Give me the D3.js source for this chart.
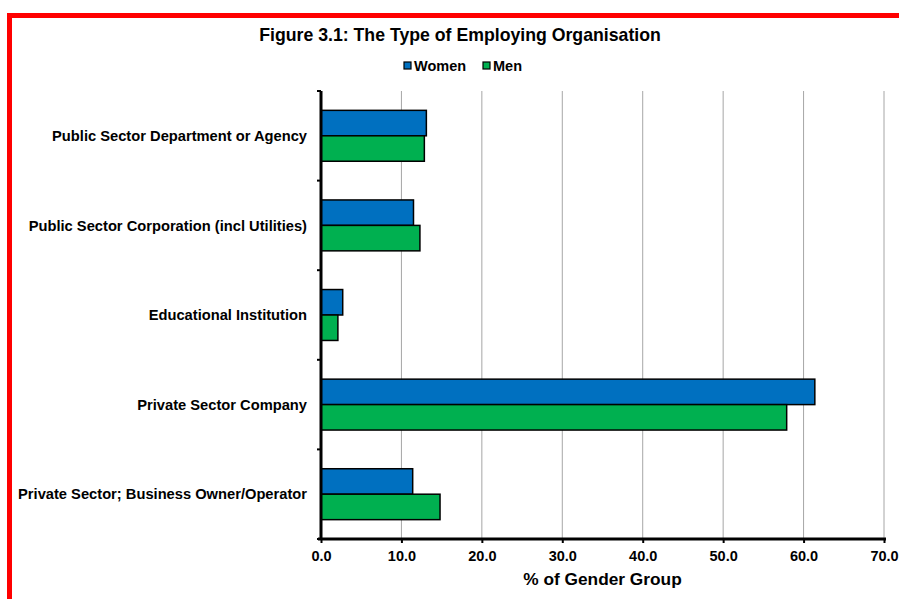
<!DOCTYPE html>
<html>
<head>
<meta charset="utf-8">
<script src="https://cdn.jsdelivr.net/npm/d3@7"></script>
<style>
  body { margin: 0; background: #fff; }
  text { font-family: "Liberation Sans", Arial, sans-serif; font-weight: bold; fill: #000; }
</style>
</head>
<body>
<svg id="chart"></svg>
<script>
var categories = [
  "Public Sector Department or Agency",
  "Public Sector Corporation (incl Utilities)",
  "Educational Institution",
  "Private Sector Company",
  "Private Sector; Business Owner/Operator"
];
var series = ["Women", "Men"];
var women = [13.1, 11.5, 2.7, 61.4, 11.4];
var men = [12.85, 12.3, 2.1, 57.9, 14.8];
var xTicks = [0, 10, 20, 30, 40, 50, 60, 70];
var colors = { Women: "#0070c0", Men: "#00b050" };

var W = 899, H = 599;
var margin = { top: 91, right: 15, bottom: 60, left: 321 };
var width = 884 - margin.left;
var height = 539 - margin.top;

var svgRoot = d3.select("#chart")
  .attr("width", W)
  .attr("height", H);

// red frame
svgRoot.append("path")
  .attr("d", "M9.5," + H + " V15.5 H" + W)
  .attr("fill", "none")
  .attr("stroke", "#ff0000")
  .attr("stroke-width", 5);

var svg = svgRoot.append("g")
  .attr("transform", "translate(" + margin.left + "," + margin.top + ")");

var x = d3.scaleLinear().domain([0, 70]).range([0, width]);
var y = d3.scaleBand().domain(categories).range([0, height]).padding(0);
var ys = d3.scaleBand().domain(series).range([0, y.bandwidth()])
  .paddingInner(0).paddingOuter(0.76);

// gridlines
svg.append("g")
  .selectAll("line")
  .data(xTicks.slice(1))
  .enter().append("line")
  .attr("x1", function (d) { return x(d); })
  .attr("x2", function (d) { return x(d); })
  .attr("y1", 0)
  .attr("y2", height)
  .attr("stroke", "#a6a6a6")
  .attr("stroke-width", 1);

// bars
var rows = categories.map(function (c, i) {
  return { cat: c, vals: [{ s: "Women", v: women[i] }, { s: "Men", v: men[i] }] };
});
var grp = svg.selectAll(".cat")
  .data(rows)
  .enter().append("g")
  .attr("transform", function (d) { return "translate(0," + y(d.cat) + ")"; });
grp.selectAll("rect")
  .data(function (d) { return d.vals; })
  .enter().append("rect")
  .attr("x", 0)
  .attr("y", function (d) { return ys(d.s); })
  .attr("width", function (d) { return x(d.v); })
  .attr("height", ys.bandwidth())
  .attr("fill", function (d) { return colors[d.s]; })
  .attr("stroke", "#000")
  .attr("stroke-width", 1.5);

// x axis
var xAxis = svg.append("g")
  .attr("transform", "translate(0," + height + ")")
  .call(d3.axisBottom(x).tickValues(xTicks).tickFormat(d3.format(".1f")).tickSize(4).tickSizeOuter(0));
xAxis.select(".domain").attr("stroke-width", 3).attr("d", "M-3,0H" + (width + 2));
xAxis.selectAll(".tick line").attr("stroke-width", 2);
xAxis.selectAll("text")
  .attr("y", 17)
  .attr("dy", "0.35em")
  .style("font-size", "14.5px")
  .style("font-family", "Liberation Sans, Arial, sans-serif")
  .style("font-weight", "bold");

// y axis
var yTickPos = d3.range(categories.length + 1).map(function (i) { return i * y.step(); });
var yAxis = svg.append("g");
yAxis.append("line")
  .attr("x1", 0).attr("x2", 0)
  .attr("y1", 0).attr("y2", height)
  .attr("stroke", "#000").attr("stroke-width", 3);
yAxis.selectAll(".yt")
  .data(yTickPos)
  .enter().append("line")
  .attr("x1", -4).attr("x2", 0)
  .attr("y1", function (d) { return d; })
  .attr("y2", function (d) { return d; })
  .attr("stroke", "#000").attr("stroke-width", 2);
yAxis.selectAll(".ylab")
  .data(categories)
  .enter().append("text")
  .attr("x", -14)
  .attr("y", function (d) { return y(d) + y.bandwidth() / 2; })
  .attr("dy", "0.35em")
  .attr("text-anchor", "end")
  .style("font-size", "14.7px")
  .text(function (d) { return d; });

// axis title
svgRoot.append("text")
  .attr("x", margin.left + width / 2)
  .attr("y", 585)
  .attr("text-anchor", "middle")
  .style("font-size", "17.3px")
  .text("% of Gender Group");

// title
svgRoot.append("text")
  .attr("x", 460)
  .attr("y", 41)
  .attr("text-anchor", "middle")
  .style("font-size", "17.7px")
  .text("Figure 3.1: The Type of Employing Organisation");

// legend
var legend = svgRoot.append("g").attr("transform", "translate(404,62)");
var lx = [0, 79];
series.forEach(function (s, i) {
  legend.append("rect")
    .attr("x", lx[i]).attr("y", 0)
    .attr("width", 7).attr("height", 7)
    .attr("fill", colors[s])
    .attr("stroke", "#000").attr("stroke-width", 1.2);
  legend.append("text")
    .attr("x", lx[i] + 10).attr("y", 4)
    .attr("dy", "0.35em")
    .style("font-size", "14.5px")
    .text(s);
});
</script>
</body>
</html>
